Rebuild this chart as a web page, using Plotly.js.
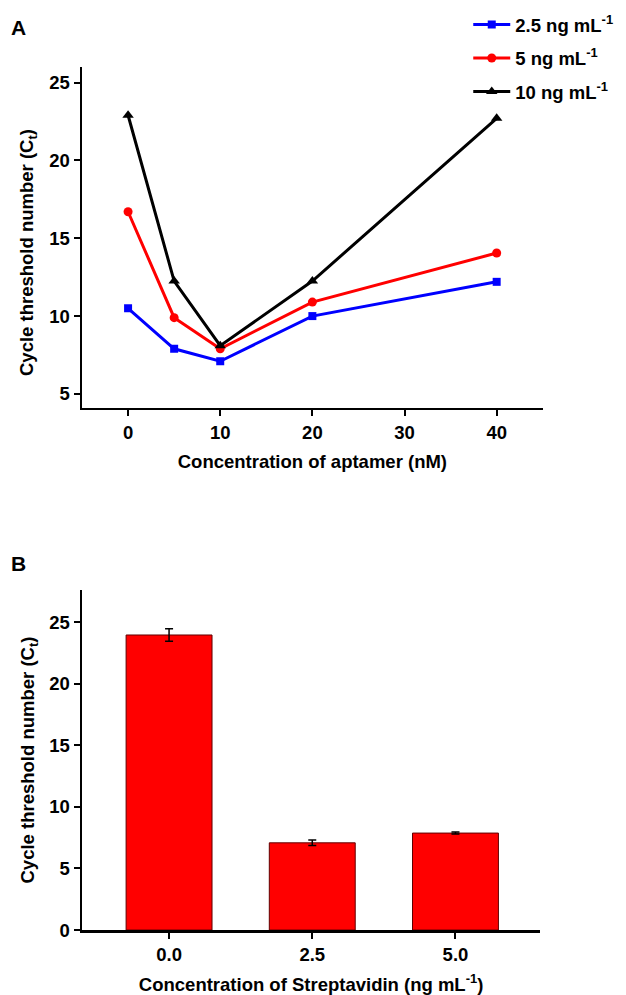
<!DOCTYPE html>
<html>
<head>
<meta charset="utf-8">
<script src="https://cdn.plot.ly/plotly-3.0.1.min.js"></script>
<style>html,body{margin:0;padding:0;background:#fff;}#chart{width:626px;height:995px;}</style>
</head>
<body>
<div id="chart"></div>
<script>
// Panel A data
const aptamerConc = [0, 5, 10, 20, 40];
const ct_2_5 = [10.5, 7.9, 7.1, 10.0, 12.2];
const ct_5 = [16.7, 9.9, 7.9, 10.9, 14.05];
const ct_10 = [22.9, 12.25, 8.1, 12.25, 22.7];
const seriesNames = ["2.5 ng mL<sup>-1</sup>", "5 ng mL<sup>-1</sup>", "10 ng mL<sup>-1</sup>"];
// Panel B data
const strepConc = [0.0, 2.5, 5.0];
const strepCt = [23.95, 7.08, 7.87];
const strepErr = [0.5, 0.22, 0.08];
const yTitle = "Cycle threshold number (C<sub>t</sub>)";

const F = {family: "Liberation Sans, Arial, sans-serif", size: 18.5, color: "#000", weight: "bold"};

const traces = [
  {x: aptamerConc, y: ct_2_5, name: seriesNames[0], legendgroup: "a", type: "scatter", mode: "lines+markers",
   line: {color: "#0000FF", width: 3}, marker: {symbol: "square", size: 8, color: "#0000FF"}, xaxis: "x", yaxis: "y"},
  {x: aptamerConc, y: ct_5, name: seriesNames[1], legendgroup: "b", type: "scatter", mode: "lines+markers",
   line: {color: "#FF0000", width: 3}, marker: {symbol: "circle", size: 9, color: "#FF0000"}, xaxis: "x", yaxis: "y"},
  {x: aptamerConc, y: ct_10, name: seriesNames[2], legendgroup: "c", type: "scatter", mode: "lines+markers",
   line: {color: "#000000", width: 3}, marker: {symbol: "triangle-up", size: 10, color: "#000000"}, xaxis: "x", yaxis: "y"},
  {x: strepConc, y: strepCt, type: "bar", width: 1.5, showlegend: false,
   marker: {color: "#FF0000", line: {color: "#600000", width: 1}},
   error_y: {type: "data", array: strepErr, visible: true, color: "#000", thickness: 1.5, width: 4},
   xaxis: "x2", yaxis: "y2"}
];

const axisCommon = {showline: true, linecolor: "#000", linewidth: 2.5, ticks: "outside", ticklen: 6, tickwidth: 2,
  tickcolor: "#000", showgrid: false, zeroline: false, tickfont: F, automargin: false};

const layout = {
  width: 626, height: 995,
  margin: {l: 0, r: 0, t: 0, b: 0},
  paper_bgcolor: "#fff", plot_bgcolor: "#fff",
  font: F,
  showlegend: true,
  legend: {x: 0.748, y: 0.994, xanchor: "left", yanchor: "top", font: F, bgcolor: "rgba(0,0,0,0)",
    tracegroupgap: 6.5, itemwidth: 37},
  xaxis: Object.assign({}, axisCommon, {domain: [0.131, 0.867], range: [-5, 45], tickvals: [0, 10, 20, 30, 40],
    anchor: "y", title: {text: "Concentration of aptamer (nM)", font: F, standoff: 14}}),
  yaxis: Object.assign({}, axisCommon, {domain: [0.590, 0.9327], range: [4.1, 26], tickvals: [5, 10, 15, 20, 25],
    anchor: "x"}),
  xaxis2: Object.assign({}, axisCommon, {domain: [0.131, 0.863], range: [-1.52, 6.48], tickvals: strepConc,
    tickformat: ".1f", anchor: "y2", title: {text: "Concentration of Streptavidin (ng mL<sup>-1</sup>)", font: F, standoff: 20}}),
  yaxis2: Object.assign({}, axisCommon, {domain: [0.0653, 0.407], range: [0, 27.6], tickvals: [0, 5, 10, 15, 20, 25],
    anchor: "x2", title: {text: yTitle, font: F, standoff: 10}}),
  annotations: [
    {text: yTitle, x: 28 / 626, y: 1 - 253 / 995, xref: "paper", yref: "paper", xanchor: "center", yanchor: "middle",
     textangle: -90, showarrow: false, font: F},
    {text: "A", x: 18 / 626, y: 1 - 28 / 995, xref: "paper", yref: "paper", xanchor: "center", yanchor: "middle", showarrow: false,
     font: {family: F.family, size: 21, weight: "bold", color: "#000"}},
    {text: "B", x: 18 / 626, y: 1 - 563 / 995, xref: "paper", yref: "paper", xanchor: "center", yanchor: "middle", showarrow: false,
     font: {family: F.family, size: 21, weight: "bold", color: "#000"}}
  ]
};

Plotly.newPlot("chart", traces, layout, {staticPlot: true});
</script>
</body>
</html>
